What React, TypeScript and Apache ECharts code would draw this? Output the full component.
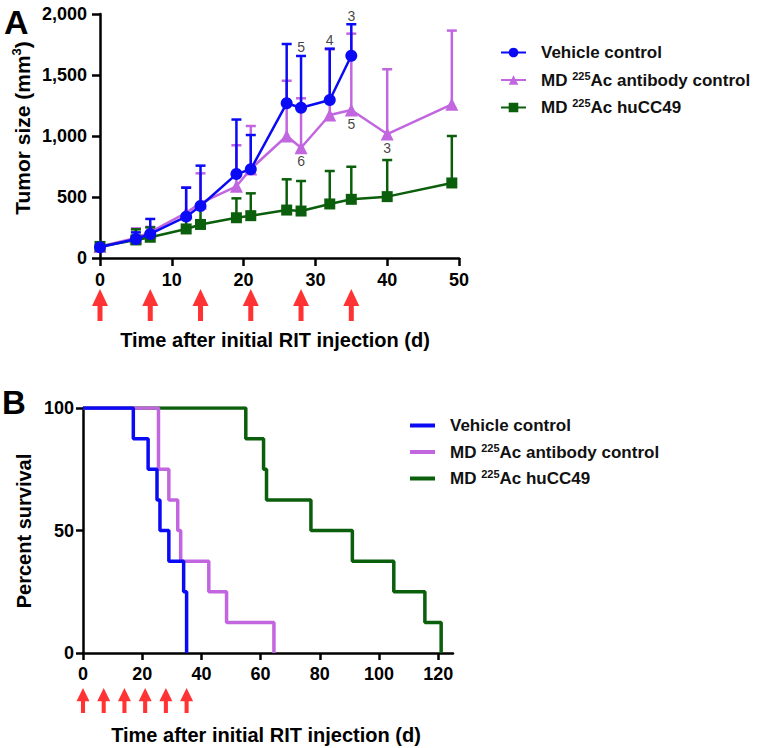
import React, { useEffect, useRef } from 'react';
import * as echarts from 'echarts';

// ---------- Data ----------
const seriesNames = ['Vehicle control', 'MD 225Ac antibody control', 'MD 225Ac huCC49'];
const colors = ['#0A0AF5', '#C266E0', '#0B5E0B'];

// Panel A: tumor size (mm3), mean and upper error (mean + SD)
const vehicleDays = [0, 5, 7, 12, 14, 19, 21, 26, 28, 32, 35];
const vehicleMean = [88, 156, 197, 339, 426, 688, 727, 1268, 1232, 1295, 1658];
const vehicleUpper = [88, 210, 320, 576, 757, 1135, 1008, 1754, 1656, 1716, 1916];

const antibodyDays = [0, 5, 7, 12, 14, 19, 21, 26, 28, 32, 35, 40, 49];
const antibodyMean = [95, 165, 212, 370, 450, 588, 730, 1000, 904, 1172, 1213, 1016, 1260];
const antibodyUpper = [95, 243, 255, 580, 694, 924, 1082, 1453, 1309, 1710, 1839, 1547, 1864];

const hucc49Days = [0, 5, 7, 12, 14, 19, 21, 26, 28, 32, 35, 40, 49];
const hucc49Mean = [95, 148, 170, 238, 275, 330, 347, 393, 385, 443, 481, 503, 615];
const hucc49Upper = [95, 235, 251, 320, 420, 489, 530, 645, 631, 713, 748, 803, 1000];

// animals remaining (day, n)
const vehicleN = [[28, 5], [32, 4], [35, 3]];
const antibodyN = [[28, 6], [35, 5], [40, 3]];

// RIT injection days
const injectionDays = [0, 7, 14, 21, 28, 35];

// Panel B: Kaplan-Meier survival (day, percent)
const vehicleSurv = [[0, 100], [17, 87.5], [22, 75], [25, 62.5], [26, 50], [29, 37.5], [34, 25], [35, 12.5], [35, 0]];
const antibodySurv = [[0, 100], [25.5, 87.5], [25.5, 75], [29, 62.5], [32, 50], [33, 37.5], [42.5, 25], [48.5, 12.5], [64.5, 0]];
const hucc49Surv = [[0, 100], [55, 87.5], [61, 75], [62, 62.5], [77, 50], [91, 37.5], [105, 25], [115.5, 12.5], [121, 0]];

const tumorTicksMax = 2000;
const survivalTicks = [0, 20, 40, 60, 80, 100, 120];

// ---------- Styles ----------
const FONT = '"Liberation Sans", Arial, Helvetica, sans-serif';
const ARROW = 'path://M8,0 L16,17 L10.5,17 L10.5,32 L5.5,32 L5.5,17 L0,17 Z';

function legendFormatter(raw: string) {
  const name = raw.replace(/^surv:/, '');
  const m = name.match(/^MD 225Ac (.*)$/);
  if (m) return '{g|}{b|MD }{s|225}{b|Ac ' + m[1] + '}';
  return '{g|}{b|' + name + '}';
}
const legendRich = {
  g: { width: 10 },
  b: { fontSize: 17, fontWeight: 'bold', fontFamily: FONT, color: '#111', lineHeight: 20 },
  s: { fontSize: 11, fontWeight: 'bold', fontFamily: FONT, color: '#111', verticalAlign: 'top' },
};

function errorBars(days: number[], mean: number[], upper: number[], color: string, z: number) {
  return {
    type: 'custom',
    xAxisIndex: 0,
    yAxisIndex: 0,
    z,
    silent: true,
    clip: false,
    data: days.map((d, i) => [d, mean[i], upper[i]]),
    encode: { x: 0, y: [1, 2] },
    renderItem: (_p: any, api: any) => {
      const x = api.value(0), m = api.value(1), u = api.value(2);
      if (u <= m) return null;
      const p0 = api.coord([x, m]);
      const p1 = api.coord([x, u]);
      return {
        type: 'group',
        children: [
          { type: 'line', shape: { x1: p0[0], y1: p0[1], x2: p1[0], y2: p1[1] }, style: { stroke: color, lineWidth: 2.5 } },
          { type: 'line', shape: { x1: p1[0] - 5, y1: p1[1], x2: p1[0] + 5, y2: p1[1] }, style: { stroke: color, lineWidth: 2.5 } },
        ],
      };
    },
  };
}

function meanLine(name: string, days: number[], mean: number[], color: string, symbol: string, size: number, z: number) {
  return {
    type: 'line',
    name,
    xAxisIndex: 0,
    yAxisIndex: 0,
    z,
    data: days.map((d, i) => [d, mean[i]]),
    symbol,
    symbolSize: size,
    showAllSymbol: true,
    lineStyle: { color, width: 2.5 },
    itemStyle: { color },
  };
}

function countLabels(ns: number[][], days: number[], vals: number[], position: string, distance: number) {
  return {
    type: 'scatter',
    xAxisIndex: 0,
    yAxisIndex: 0,
    z: 30,
    silent: true,
    symbolSize: 1,
    itemStyle: { color: 'rgba(0,0,0,0)' },
    data: ns.map(([d, n]) => [d, vals[days.indexOf(d)], n]),
    label: {
      show: true,
      position,
      distance,
      formatter: (p: any) => String(p.value[2]),
      fontSize: 14,
      fontFamily: FONT,
      color: '#111',
    },
  };
}

function survLine(name: string, data: number[][], color: string, z: number) {
  return {
    type: 'line',
    name: 'surv:' + name,
    xAxisIndex: 2,
    yAxisIndex: 2,
    z,
    step: 'end',
    data,
    symbol: 'none',
    lineStyle: { color, width: 3.5 },
    itemStyle: { color },
  };
}

function arrows(xIdx: number, size: number[]) {
  return {
    type: 'scatter',
    xAxisIndex: xIdx,
    yAxisIndex: xIdx,
    silent: true,
    symbol: ARROW,
    symbolSize: size,
    itemStyle: { color: '#FF0000' },
    data: injectionDays.map((d) => [d, 0.5]),
  };
}

const axisLineStyle = { color: '#000', width: 2.5 };
const tickLabel = { fontSize: 18, fontWeight: 'bold', fontFamily: FONT, color: '#000' };

export default function App() {
  const ref = useRef<HTMLDivElement>(null);
  useEffect(() => {
    if (!ref.current) return;
    const chart = echarts.init(ref.current, undefined, { renderer: 'svg' });
    const option: any = {
      animation: false,
      backgroundColor: '#fff',
      grid: [
        { left: 100, top: 14, width: 359, height: 244 },
        { left: 100, top: 289, width: 359, height: 32 },
        { left: 83, top: 408, width: 370, height: 245 },
        { left: 83, top: 688, width: 370, height: 25 },
      ],
      xAxis: [
        {
          gridIndex: 0, type: 'value', min: 0, max: 50, interval: 10,
          axisLine: { show: true, onZero: false, lineStyle: axisLineStyle },
          axisTick: { show: true, length: 8, lineStyle: axisLineStyle },
          axisLabel: { ...tickLabel, margin: 13 },
          splitLine: { show: false },
        },
        { gridIndex: 1, type: 'value', min: 0, max: 50, show: false },
        {
          gridIndex: 2, type: 'value', min: 0, max: 125, interval: 20,
          axisLine: { show: true, onZero: false, lineStyle: axisLineStyle },
          axisTick: { show: true, length: 7, lineStyle: axisLineStyle, customValues: survivalTicks },
          axisLabel: { ...tickLabel, margin: 12, customValues: survivalTicks },
          splitLine: { show: false },
        },
        { gridIndex: 3, type: 'value', min: 0, max: 125, show: false },
      ],
      yAxis: [
        {
          gridIndex: 0, type: 'value', min: 0, max: tumorTicksMax, interval: 500,
          axisLine: { show: true, onZero: false, lineStyle: axisLineStyle },
          axisTick: { show: true, length: 8, lineStyle: axisLineStyle },
          axisLabel: { ...tickLabel, margin: 13, formatter: (v: number) => v.toLocaleString('en-US') },
          splitLine: { show: false },
        },
        { gridIndex: 1, type: 'value', min: 0, max: 1, show: false },
        {
          gridIndex: 2, type: 'value', min: 0, max: 100, interval: 50,
          axisLine: { show: true, onZero: false, lineStyle: axisLineStyle },
          axisTick: { show: true, length: 7, lineStyle: axisLineStyle },
          axisLabel: { ...tickLabel, margin: 9 },
          splitLine: { show: false },
        },
        { gridIndex: 3, type: 'value', min: 0, max: 1, show: false },
      ],
      legend: [
        {
          orient: 'vertical', left: 495, top: 39, itemWidth: 25, itemHeight: 12, itemGap: 9,
          selectedMode: false, data: seriesNames,
          formatter: legendFormatter, textStyle: { rich: legendRich },
        },
        {
          orient: 'vertical', left: 405, top: 412, itemWidth: 25, itemHeight: 4, itemGap: 8,
          icon: 'rect', selectedMode: false, data: seriesNames.map((n) => 'surv:' + n),
          formatter: legendFormatter, textStyle: { rich: legendRich },
        },
      ],
      series: [
        errorBars(antibodyDays, antibodyMean, antibodyUpper, colors[1], 2),
        meanLine(seriesNames[1], antibodyDays, antibodyMean, colors[1], 'triangle', 13, 3),
        errorBars(hucc49Days, hucc49Mean, hucc49Upper, colors[2], 4),
        meanLine(seriesNames[2], hucc49Days, hucc49Mean, colors[2], 'rect', 11, 5),
        errorBars(vehicleDays, vehicleMean, vehicleUpper, colors[0], 6),
        meanLine(seriesNames[0], vehicleDays, vehicleMean, colors[0], 'circle', 12, 7),
        countLabels(vehicleN, vehicleDays, vehicleUpper, 'top', 1),
        countLabels(antibodyN, antibodyDays, antibodyMean, 'bottom', 6),
        arrows(1, [16, 32]),
        survLine(seriesNames[2], hucc49Surv, colors[2], 2),
        survLine(seriesNames[1], antibodySurv, colors[1], 3),
        survLine(seriesNames[0], vehicleSurv, colors[0], 4),
        arrows(3, [13, 25]),
      ],
      graphic: [
        { type: 'text', left: 4, top: 5, style: { text: 'A', font: 'bold 34px ' + FONT, fill: '#000' } },
        { type: 'text', left: 2, top: 386, style: { text: 'B', font: 'bold 33px ' + FONT, fill: '#000' } },
        {
          type: 'text', x: 22, y: 128, rotation: Math.PI / 2,
          style: {
            text: '{t|Tumor size (mm}{s|3}{t|)}', align: 'center', verticalAlign: 'middle',
            rich: {
              t: { fontSize: 21, fontWeight: 'bold', fontFamily: FONT, fill: '#000', lineHeight: 24 },
              s: { fontSize: 13, fontWeight: 'bold', fontFamily: FONT, fill: '#000', verticalAlign: 'top' },
            },
          },
        },
        {
          type: 'text', x: 275, y: 340, style: {
            text: 'Time after initial RIT injection (d)', align: 'center', verticalAlign: 'middle',
            font: 'bold 20px ' + FONT, fill: '#000',
          },
        },
        {
          type: 'text', x: 24, y: 531, rotation: Math.PI / 2, style: {
            text: 'Percent survival', align: 'center', verticalAlign: 'middle',
            font: 'bold 20px ' + FONT, fill: '#000',
          },
        },
        {
          type: 'text', x: 266, y: 735, style: {
            text: 'Time after initial RIT injection (d)', align: 'center', verticalAlign: 'middle',
            font: 'bold 20px ' + FONT, fill: '#000',
          },
        },
      ],
    };
    chart.setOption(option);
    return () => chart.dispose();
  }, []);
  return <div ref={ref} style={{ position: 'absolute', left: 0, top: 0, width: 757, height: 748 }} />;
}
